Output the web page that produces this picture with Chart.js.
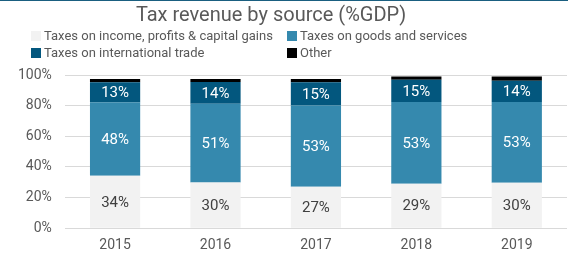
<!DOCTYPE html>
<html>
<head>
<meta charset="utf-8">
<script src="https://cdn.jsdelivr.net/npm/chart.js@4"></script>
<style>
  html, body { margin: 0; padding: 0; background: #fff; }
  body { width: 568px; height: 256px; position: relative; overflow: hidden; font-family: Roboto, sans-serif; }
  #topline { position: absolute; left: 0; top: 0; width: 568px; height: 1px; background: #1a5f80; }
  #wrap { position: absolute; left: 0; top: 0; width: 568px; height: 263px; }
  #title { position: absolute; top: 2px; left: 0; width: 542px; text-align: center; font-size: 20px; color: #595959; }
  #legend { position: absolute; top: 28px; left: 31px; display: grid; grid-template-columns: 256px 240px; row-gap: 2px; font-size: 13px; color: #595959; }
  #legend span.box { display: inline-block; width: 10px; height: 10px; margin-right: 3px; vertical-align: -1px; }
</style>
</head>
<body>
<div id="wrap"><canvas id="myChart" width="568" height="263"></canvas></div>
<div id="topline"></div>
<div id="title">Tax revenue by source (%GDP)</div>
<div id="legend"></div>
<script>
const years = ["2015", "2016", "2017", "2018", "2019"];
const incomeTax = [34.2, 29.9, 27.0, 29.0, 29.6];
const goodsTax = [48.0, 51.4, 53.1, 53.4, 52.8];
const tradeTax = [13.0, 14.1, 15.1, 14.5, 13.9];
const otherTax = [2.2, 2.0, 2.2, 2.2, 2.8];
const yTicks = [0, 20, 40, 60, 80, 100];

const seriesNames = [
  "Taxes on income, profits & capital gains",
  "Taxes on goods and services",
  "Taxes on international trade",
  "Other",
];
const colors = ["#f2f2f2", "#3589ae", "#03577e", "#000000"];
const labelColors = ["#404040", "#ffffff", "#ffffff", null];

// legend in two columns, like the original
const legend = document.getElementById("legend");
seriesNames.forEach((name, i) => {
  const d = document.createElement("div");
  d.innerHTML = '<span class="box" style="background:' + colors[i] + '"></span>' + name;
  legend.appendChild(d);
});

const barLabels = {
  id: "barLabels",
  afterDatasetsDraw(chart) {
    const c = chart.ctx;
    c.save();
    c.font = "15px Roboto";
    c.textAlign = "center";
    c.textBaseline = "middle";
    chart.data.datasets.forEach((ds, i) => {
      if (!labelColors[i]) return;
      c.fillStyle = labelColors[i];
      chart.getDatasetMeta(i).data.forEach((bar, j) => {
        c.fillText(Math.round(ds.data[j]) + "%", bar.x, (bar.y + bar.base) / 2 + 1);
      });
    });
    c.restore();
  },
};

const ctx = document.getElementById("myChart");

new Chart(ctx, {
  type: "bar",
  data: {
    labels: years,
    datasets: [incomeTax, goodsTax, tradeTax, otherTax].map((values, i) => ({
      label: seriesNames[i],
      data: values,
      backgroundColor: colors[i],
      categoryPercentage: 0.5,
      barPercentage: 1,
    })),
  },
  options: {
    responsive: false,
    animation: false,
    layout: { padding: { top: 75, right: 1, left: 5, bottom: 0 } },
    plugins: {
      legend: { display: false },
      title: { display: false },
      tooltip: { enabled: false },
    },
    scales: {
      x: {
        stacked: true,
        grid: { display: false, drawTicks: false },
        border: { display: false },
        ticks: { color: "#595959", font: { family: "Roboto", size: 14 }, padding: 9 },
      },
      y: {
        stacked: true,
        min: 0,
        max: 100,
        afterBuildTicks(axis) {
          axis.ticks = yTicks.map((v) => ({ value: v }));
        },
        grid: { color: "#d9d9d9", drawTicks: false, lineWidth: 1 },
        border: { display: false },
        ticks: {
          color: "#595959",
          font: { family: "Roboto", size: 14 },
          padding: 13,
          callback: (v) => v + "%",
        },
      },
    },
  },
  plugins: [barLabels],
});
</script>
</body>
</html>
